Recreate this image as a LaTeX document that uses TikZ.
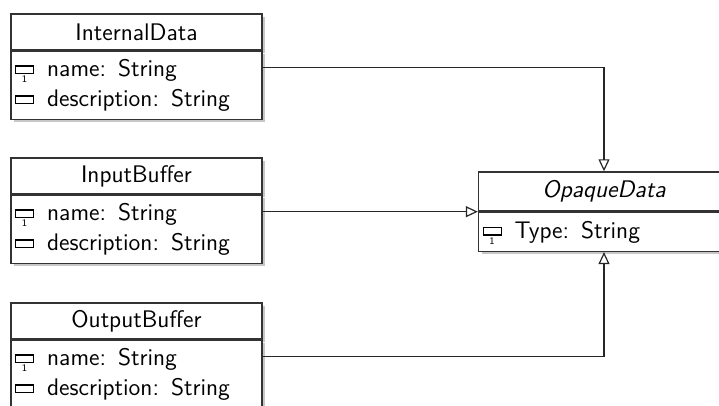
\documentclass[tikz,border=0pt]{standalone}
\usepackage{tikz}
\usetikzlibrary{positioning,arrows.meta,shadows}
\renewcommand{\familydefault}{\sfdefault}

% property icon with optional multiplicity below it
\newcommand{\attrbox}[1]{\leavevmode\rlap{\raisebox{-3.2pt}[0pt][0pt]{\makebox[9.6pt]{\fontsize{5}{5}\selectfont #1}}}%
	\raisebox{1.8pt}{\setlength{\fboxsep}{0pt}\setlength{\fboxrule}{0.6pt}\fbox{\rule{0pt}{3.2pt}\hspace{8.4pt}}}}

\tikzset{
	classhead/.style={draw=black!80, fill=white, line width=0.7pt, minimum width=125.5pt,
		minimum height=18pt, inner sep=0pt, font=\fontsize{12}{14}\selectfont,
		drop shadow={shadow xshift=1.5pt, shadow yshift=-1.5pt, fill=black!22, opacity=1}},
	classbody/.style={classhead, minimum height=34pt, anchor=north, text width=121.5pt,
		align=left, inner xsep=2pt, font=\fontsize{12}{15}\selectfont},
	inherits/.style={draw=black!85, line width=0.6pt, -{Triangle[open, length=6pt, width=5.5pt]}}
}

\begin{document}
\begin{tikzpicture}[x=0.5pt, y=-0.5pt]
		\useasboundingbox (0,0) rectangle (719,406);
		\clip (0,0) rectangle (719,406);
		% subclasses
		\node[classhead] (internalhead) at (136.5,32) {InternalData};
		\node[classbody, below=0pt of internalhead] (internalbody)
			{\attrbox{1}\hspace{6.5pt}name:\hspace{6pt}String\\ \attrbox{}\hspace{6.5pt}description:\hspace{6pt}String};
		\node[classhead] (inputhead) at (136.5,176) {InputBuffer};
		\node[classbody, below=0pt of inputhead] (inputbody)
			{\attrbox{1}\hspace{6.5pt}name:\hspace{6pt}String\\ \attrbox{}\hspace{6.5pt}description:\hspace{6pt}String};
		\node[classhead] (outputhead) at (136.5,321) {OutputBuffer};
		\node[classbody, below=0pt of outputhead] (outputbody)
			{\attrbox{1}\hspace{6.5pt}name:\hspace{6pt}String\\ \attrbox{}\hspace{6.5pt}description:\hspace{6pt}String};
		% abstract class
		\node[classhead, minimum height=19.5pt, font=\fontsize{12}{14}\selectfont\itshape] (opaquehead) at (604,191.5) {OpaqueData};
		\node[classbody, minimum height=19.5pt, below=0pt of opaquehead] (opaquebody)
			{\attrbox{1}\hspace{6.5pt}Type:\hspace{6pt}String};
		% generalizations
		\draw[inherits] ([yshift=9pt]internalbody.east) -| (opaquehead.north);
		\draw[inherits] (inputbody.east |- opaquehead.south) -- (opaquehead.south west);
		\draw[inherits] ([yshift=9pt]outputbody.east) -| (opaquebody.south);
\end{tikzpicture}
\end{document}
